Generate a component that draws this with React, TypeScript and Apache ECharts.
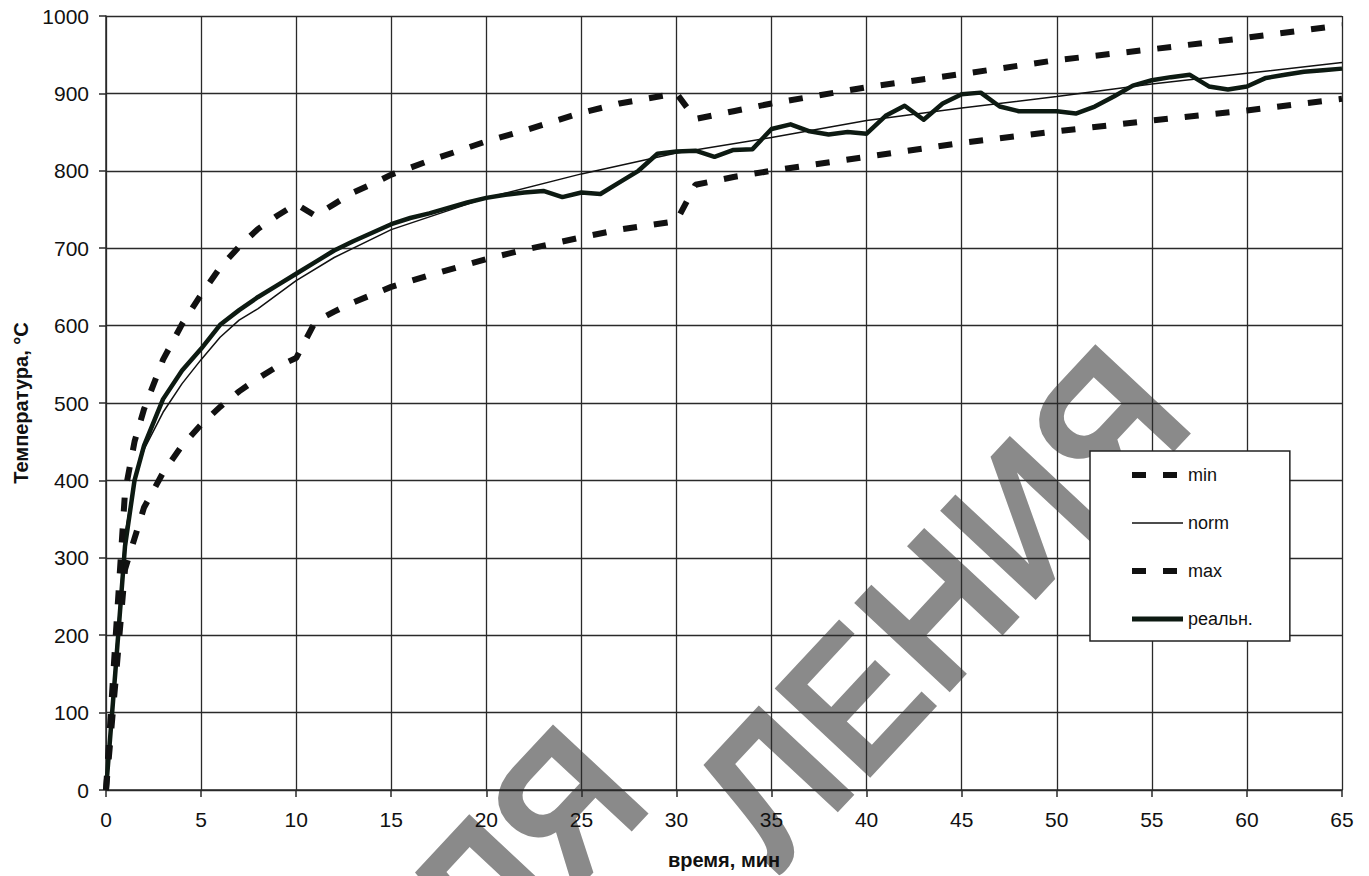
import React, { useEffect, useRef } from "react";
import * as echarts from "echarts";

// ---- data ----
const realT = [0, 0.5, 1, 1.5, 2, 3, 4, 5, 6, 7, 8, 9, 10, 11, 12, 13, 14, 15, 16, 17, 18, 19, 20, 21, 22, 23, 24, 25, 26, 27, 28, 29, 30, 31, 32, 33, 34, 35, 36, 37, 38, 39, 40, 41, 42, 43, 44, 45, 46, 47, 48, 49, 50, 51, 52, 53, 54, 55, 56, 57, 58, 59, 60, 61, 62, 63, 64, 65];
const realV = [0, 155, 315, 400, 445, 505, 542, 570, 601, 620, 637, 652, 667, 682, 697, 709, 720, 731, 739, 745, 752, 759, 765, 769, 772, 774, 766, 772, 770, 785, 800, 822, 825, 826, 818, 827, 828, 854, 860, 851, 847, 850, 848, 871, 884, 866, 887, 899, 901, 883, 877, 877, 877, 874, 883, 896, 910, 917, 921, 924, 909, 905, 909, 920, 924, 928, 930, 932];

const normT = [0, 0.5, 1, 1.5, 2, 3, 4, 5, 6, 7, 8, 9, 10, 12, 15, 20, 25, 30, 35, 40, 45, 50, 55, 60, 65];
const normV = [0, 170, 330, 400, 440, 488, 525, 556, 585, 607, 622, 640, 658, 688, 724, 765, 796, 823, 843, 865, 881, 896, 912, 926, 940];

const bandT = [0, 0.5, 1, 1.5, 2, 3, 4, 5, 6, 7, 8, 9, 10, 11, 12, 13, 14, 15, 17, 20, 22, 25, 27, 30, 31, 33, 35, 40, 45, 50, 55, 60, 65];
const maxV = [0, 195, 385, 450, 492, 556, 602, 640, 675, 702, 725, 742, 757, 742, 757, 772, 783, 795, 813, 838, 852, 875, 887, 900, 867, 877, 887, 908, 925, 943, 957, 972, 988];
const minV = [0, 140, 285, 325, 365, 410, 445, 472, 495, 515, 532, 547, 558, 605, 618, 630, 640, 650, 665, 686, 698, 714, 724, 735, 782, 792, 800, 818, 836, 851, 865, 878, 893];

const seriesNames = ["min", "norm", "max", "реальн."];
const xTitle = "время, мин";
const yTitle = "Температура, °C";
const watermark1 = "ДЛЯ";
const watermark2 = "ЛЕНИЯ";

const pairs = (t: number[], v: number[]) => t.map((x, i) => [x, v[i]]);

const FONT = "'Liberation Sans', Arial, sans-serif";
const INK = "#111";
const GRID = "#2a2a2a";
const DASH = [14, 17];

export default function App() {
  const ref = useRef<HTMLDivElement>(null);

  useEffect(() => {
    document.body.style.margin = "0";
    const chart = echarts.init(ref.current!, null, { renderer: "svg" });
    const rot = (47 * Math.PI) / 180;
    const wmStyle = (text: string) => ({
      text,
      fill: "#8a8a8a",
      font: `bold 190px ${FONT}`,
      align: "right",
      verticalAlign: "middle",
    });
    chart.setOption({
      animation: false,
      backgroundColor: "#fff",
      grid: { left: 106, right: 27, top: 16, bottom: 86, containLabel: false },
      graphic: [
        {
          type: "text",
          z: -10,
          x: 608,
          y: 760,
          rotation: rot,
          scaleX: 0.9,
          silent: true,
          style: wmStyle(watermark1),
        },
        {
          type: "text",
          z: -10,
          x: 1151,
          y: 380,
          rotation: rot,
          scaleX: 0.92,
          silent: true,
          style: wmStyle(watermark2),
        },
      ],
      xAxis: {
        type: "value",
        min: 0,
        max: 65,
        interval: 5,
        name: xTitle,
        nameLocation: "middle",
        nameGap: 60,
        nameTextStyle: { fontFamily: FONT, fontSize: 20, fontWeight: "bold", color: INK },
        axisLine: { show: true, lineStyle: { color: GRID, width: 1.5 } },
        axisTick: { show: true, length: 7, lineStyle: { color: GRID, width: 1.5 } },
        axisLabel: { fontFamily: FONT, fontSize: 21, color: INK, margin: 19, formatter: (v: number) => String(v) },
        splitLine: { show: true, lineStyle: { color: GRID, width: 1.3 } },
      },
      yAxis: {
        type: "value",
        min: 0,
        max: 1000,
        interval: 100,
        name: yTitle,
        nameLocation: "middle",
        nameGap: 74,
        nameTextStyle: { fontFamily: FONT, fontSize: 20, fontWeight: "bold", color: INK },
        axisLine: { show: true, lineStyle: { color: GRID, width: 1.5 } },
        axisTick: { show: true, length: 7, lineStyle: { color: GRID, width: 1.5 } },
        axisLabel: { fontFamily: FONT, fontSize: 21, color: INK, margin: 17, formatter: (v: number) => String(v) },
        splitLine: { show: true, lineStyle: { color: GRID, width: 1.3 } },
      },
      legend: {
        orient: "vertical",
        left: 1090,
        top: 451,
        padding: [15, 37, 13, 39],
        itemWidth: 51,
        itemHeight: 20,
        itemGap: 30,
        backgroundColor: "#fff",
        borderColor: "#222",
        borderWidth: 1.5,
        borderRadius: 0,
        itemStyle: { opacity: 0 },
        textStyle: { fontFamily: FONT, fontSize: 18, color: INK },
        data: [
          { name: seriesNames[0], lineStyle: { width: 6 } },
          { name: seriesNames[1], lineStyle: { width: 1.5 } },
          { name: seriesNames[2], lineStyle: { width: 6 } },
          { name: seriesNames[3], lineStyle: { width: 5 } },
        ],
      },
      series: [
        {
          name: seriesNames[0],
          type: "line",
          data: pairs(bandT, minV),
          symbol: "none",
          itemStyle: { color: INK },
          lineStyle: { color: INK, width: 6, type: DASH, cap: "butt" },
          z: 3,
        },
        {
          name: seriesNames[1],
          type: "line",
          data: pairs(normT, normV),
          symbol: "none",
          itemStyle: { color: INK },
          lineStyle: { color: INK, width: 1.5 },
          z: 2,
        },
        {
          name: seriesNames[2],
          type: "line",
          data: pairs(bandT, maxV),
          symbol: "none",
          itemStyle: { color: INK },
          lineStyle: { color: INK, width: 6, type: DASH, cap: "butt" },
          z: 3,
        },
        {
          name: seriesNames[3],
          type: "line",
          data: pairs(realT, realV),
          symbol: "none",
          itemStyle: { color: "#0d1a12" },
          lineStyle: { color: "#0d1a12", width: 4.5, join: "round" },
          z: 2,
        },
      ],
    });
    return () => chart.dispose();
  }, []);

  return <div ref={ref} style={{ width: 1369, height: 876 }} />;
}
